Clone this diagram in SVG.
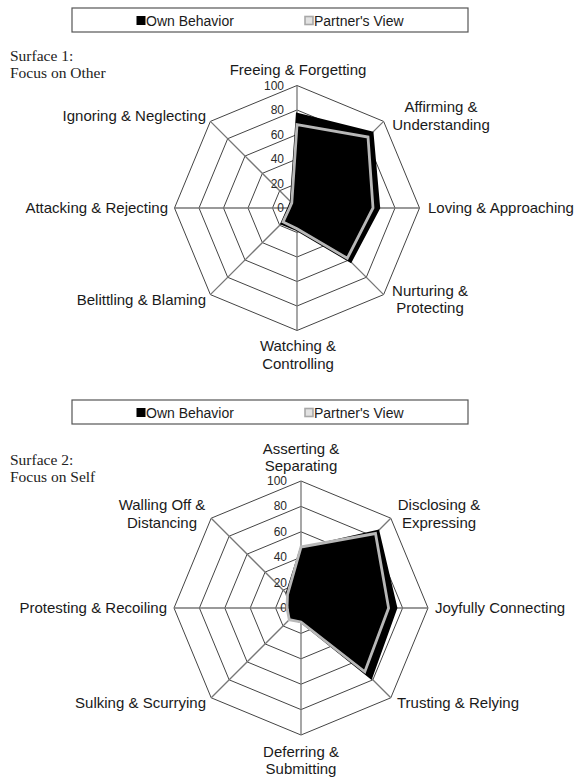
<svg xmlns="http://www.w3.org/2000/svg" width="582" height="779" viewBox="0 0 582 779">
<style>
.bg{fill:#ffffff}
.legbox{fill:#ffffff;stroke:#555;stroke-width:1.2}
.legtxt{font-family:"Liberation Sans",Arial,sans-serif;font-size:14px;fill:#1a1a1a}
.sw-own{fill:#000;stroke:#000;stroke-width:1}
.sw-part{fill:#e2e2e2;stroke:#a8a8a8;stroke-width:1.6}
.surf{font-family:"Liberation Serif","Times New Roman",serif;font-size:15.5px;fill:#222}
.ring{fill:none;stroke:#444;stroke-width:1}
.spoke{stroke:#777;stroke-width:1.3}
.tick{font-family:"Liberation Sans",Arial,sans-serif;font-size:12px;fill:#2a2a2a;text-anchor:end}
.lab{font-family:"Liberation Sans",Arial,sans-serif;font-size:15px;fill:#1a1a1a}
.mid{text-anchor:middle}
.end{text-anchor:end}
.own{fill:#000;stroke:#000;stroke-width:2.2;stroke-linejoin:miter}
.part{fill:none;stroke:#b8b8b8;stroke-width:2.8;stroke-linejoin:miter}
</style>
<rect class="bg" x="0" y="0" width="582" height="779"/>

<!-- ============ Surface 1 ============ -->
<g id="legend1">
<rect class="legbox" x="72" y="8" width="396" height="24"/>
<rect class="sw-own" x="137" y="16.5" width="8" height="8"/>
<text class="legtxt" x="146" y="25.5">Own Behavior</text>
<rect class="sw-part" x="305" y="16.5" width="8" height="8"/>
<text class="legtxt" x="314" y="25.5">Partner's View</text>
</g>
<g id="title1">
<text class="surf" x="10" y="61">Surface 1:</text>
<text class="surf" x="10" y="78">Focus on Other</text>
</g>
<g id="grid1">
<polygon class="ring" points="297,183.5 314.32,190.68 321.5,208 314.32,225.32 297,232.5 279.68,225.32 272.5,208 279.68,190.68"/>
<polygon class="ring" points="297,159 331.65,173.35 346,208 331.65,242.65 297,257 262.35,242.65 248,208 262.35,173.35"/>
<polygon class="ring" points="297,134.5 348.97,156.03 370.5,208 348.97,259.97 297,281.5 245.03,259.97 223.5,208 245.03,156.03"/>
<polygon class="ring" points="297,110 366.3,138.7 395,208 366.3,277.3 297,306 227.7,277.3 199,208 227.7,138.7"/>
<polygon class="ring" points="297,85.5 383.62,121.38 419.5,208 383.62,294.62 297,330.5 210.38,294.62 174.5,208 210.38,121.38"/>
<line class="spoke" x1="297" y1="208" x2="297" y2="85.5"/>
<line class="spoke" x1="297" y1="208" x2="383.62" y2="121.38"/>
<line class="spoke" x1="297" y1="208" x2="419.5" y2="208"/>
<line class="spoke" x1="297" y1="208" x2="383.62" y2="294.62"/>
<line class="spoke" x1="297" y1="208" x2="297" y2="330.5"/>
<line class="spoke" x1="297" y1="208" x2="210.38" y2="294.62"/>
<line class="spoke" x1="297" y1="208" x2="174.5" y2="208"/>
<line class="spoke" x1="297" y1="208" x2="210.38" y2="121.38"/>
<text class="tick" x="284" y="212">0</text>
<text class="tick" x="284" y="187.5">20</text>
<text class="tick" x="284" y="163">40</text>
<text class="tick" x="284" y="138.5">60</text>
<text class="tick" x="284" y="114">80</text>
<text class="tick" x="284" y="89.5">100</text>
</g>
<g id="series1">
<polygon id="own1" class="own" points="297,113.7 372.4,132.6 379.1,208 350.7,261.7 297,230.1 281.4,223.6 288.4,208 290.9,201.9"/>
<polygon id="partner1" class="part" points="297,124.7 368,137 373,208 347.3,258.3 297,228.8 283.1,221.9 289.6,208 291.8,202.8"/>
</g>
<g id="n1-freeing"><text class="lab mid" x="298" y="75">Freeing &amp; Forgetting</text></g>
<g id="n1-affirming"><text class="lab mid" x="441" y="112">Affirming &amp;</text><text class="lab mid" x="441" y="130">Understanding</text></g>
<g id="n1-loving"><text class="lab" x="428" y="213">Loving &amp; Approaching</text></g>
<g id="n1-nurturing"><text class="lab mid" x="430" y="296">Nurturing &amp;</text><text class="lab mid" x="430" y="313">Protecting</text></g>
<g id="n1-watching"><text class="lab mid" x="298" y="351">Watching &amp;</text><text class="lab mid" x="298" y="369">Controlling</text></g>
<g id="n1-belittling"><text class="lab end" x="206" y="305">Belittling &amp; Blaming</text></g>
<g id="n1-attacking"><text class="lab end" x="168" y="213">Attacking &amp; Rejecting</text></g>
<g id="n1-ignoring"><text class="lab end" x="206" y="121">Ignoring &amp; Neglecting</text></g>

<!-- ============ Surface 2 ============ -->
<g id="legend2">
<rect class="legbox" x="72" y="400" width="396" height="24"/>
<rect class="sw-own" x="137" y="408.5" width="8" height="8"/>
<text class="legtxt" x="146" y="417.5">Own Behavior</text>
<rect class="sw-part" x="305" y="408.5" width="8" height="8"/>
<text class="legtxt" x="314" y="417.5">Partner's View</text>
</g>
<g id="title2">
<text class="surf" x="10" y="465">Surface 2:</text>
<text class="surf" x="10" y="482">Focus on Self</text>
</g>
<g id="grid2">
<polygon class="ring" points="301,582.6 318.96,590.04 326.4,608 318.96,625.96 301,633.4 283.04,625.96 275.6,608 283.04,590.04"/>
<polygon class="ring" points="301,557.2 336.92,572.08 351.8,608 336.92,643.92 301,658.8 265.08,643.92 250.2,608 265.08,572.08"/>
<polygon class="ring" points="301,531.8 354.88,554.12 377.2,608 354.88,661.88 301,684.2 247.12,661.88 224.8,608 247.12,554.12"/>
<polygon class="ring" points="301,506.4 372.84,536.16 402.6,608 372.84,679.84 301,709.6 229.16,679.84 199.4,608 229.16,536.16"/>
<polygon class="ring" points="301,481 390.8,518.2 428,608 390.8,697.8 301,735 211.2,697.8 174,608 211.2,518.2"/>
<line class="spoke" x1="301" y1="608" x2="301" y2="481"/>
<line class="spoke" x1="301" y1="608" x2="390.8" y2="518.2"/>
<line class="spoke" x1="301" y1="608" x2="428" y2="608"/>
<line class="spoke" x1="301" y1="608" x2="390.8" y2="697.8"/>
<line class="spoke" x1="301" y1="608" x2="301" y2="735"/>
<line class="spoke" x1="301" y1="608" x2="211.2" y2="697.8"/>
<line class="spoke" x1="301" y1="608" x2="174" y2="608"/>
<line class="spoke" x1="301" y1="608" x2="211.2" y2="518.2"/>
<text class="tick" x="287" y="612">0</text>
<text class="tick" x="287" y="586.6">20</text>
<text class="tick" x="287" y="561.2">40</text>
<text class="tick" x="287" y="535.8">60</text>
<text class="tick" x="287" y="510.4">80</text>
<text class="tick" x="287" y="485">100</text>
</g>
<g id="series2">
<polygon id="own2" class="own" points="301,548.3 378.2,530.8 396.3,608 371.1,678.1 301,622 290.3,618.7 289.6,608 286.6,593.6"/>
<polygon id="partner2" class="part" points="301,547 375.5,533.5 388.6,608 364.8,671.8 301,622 289.3,619.7 287,608 287.5,594.5"/>
</g>
<g id="n2-asserting"><text class="lab mid" x="301" y="454">Asserting &amp;</text><text class="lab mid" x="301" y="471">Separating</text></g>
<g id="n2-disclosing"><text class="lab mid" x="439" y="510">Disclosing &amp;</text><text class="lab mid" x="439" y="528">Expressing</text></g>
<g id="n2-joyfully"><text class="lab" x="435" y="613">Joyfully Connecting</text></g>
<g id="n2-trusting"><text class="lab" x="397" y="708">Trusting &amp; Relying</text></g>
<g id="n2-deferring"><text class="lab mid" x="301" y="757">Deferring &amp;</text><text class="lab mid" x="301" y="774">Submitting</text></g>
<g id="n2-sulking"><text class="lab end" x="206" y="708">Sulking &amp; Scurrying</text></g>
<g id="n2-protesting"><text class="lab end" x="167" y="613">Protesting &amp; Recoiling</text></g>
<g id="n2-walling"><text class="lab mid" x="162" y="510">Walling Off &amp;</text><text class="lab mid" x="162" y="528">Distancing</text></g>
</svg>
